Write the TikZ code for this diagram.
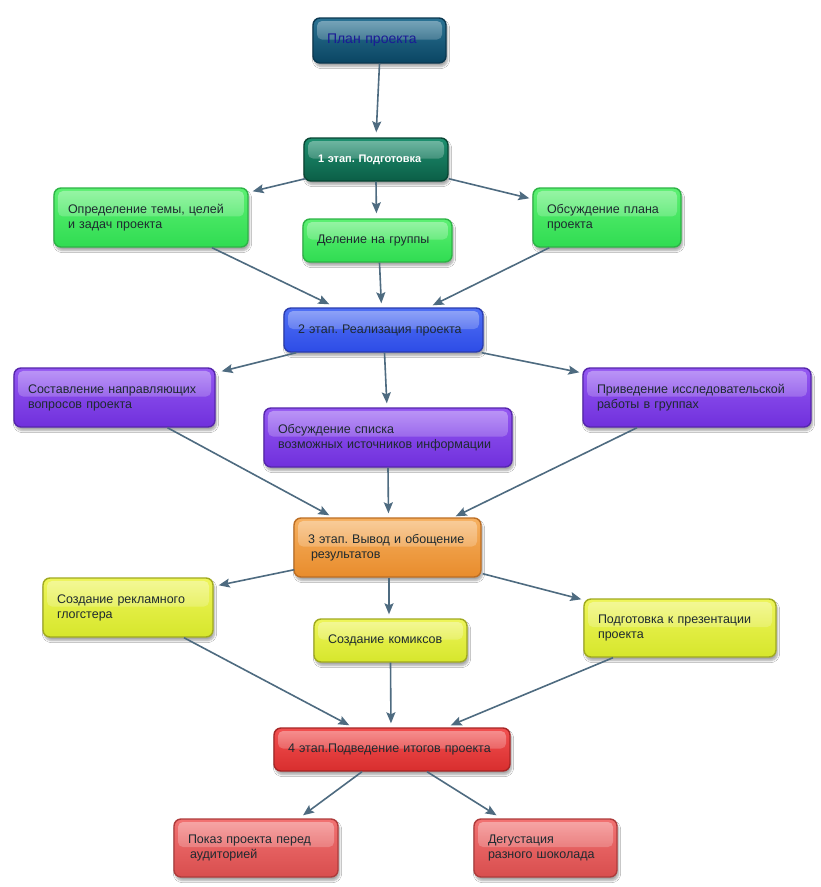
\documentclass[tikz,border=0pt]{standalone}
\usepackage{fontspec}
\setmainfont{Liberation Sans}
\frenchspacing
\usetikzlibrary{arrows.meta,shadows.blur,fadings}
\definecolor{arrowc}{HTML}{4E6B80}
\definecolor{txt}{HTML}{1E2A30}
\tikzset{
  box/.style={rounded corners=7pt, line width=1.4pt, align=left,
    minimum width=#1, text width=#1-28pt, inner xsep=14pt, inner ysep=2pt,
    font=\fontsize{12.5}{15}\selectfont\frenchspacing, text=txt,
    blur shadow={shadow xshift=1.5pt, shadow yshift=-3.5pt, shadow blur steps=6, shadow opacity=35},
    path picture={\fill[white, fill opacity=0.38, path fading=south, rounded corners=5pt]
      ([shift={(4,3)}]path picture bounding box.north west) rectangle
      ([shift={(-4,-1)}]path picture bounding box.east);}},
  plan/.style={top color=planT, bottom color=planB, draw=planD},
  stone/.style={top color=s1T, bottom color=s1B, draw=s1D},
  grn/.style={top color=grT, bottom color=grB, draw=grD},
  blu/.style={top color=blT, bottom color=blB, draw=blD},
  pur/.style={top color=puT, bottom color=puB, draw=puD},
  org/.style={top color=orT, bottom color=orB, draw=orD},
  yel/.style={top color=yeT, bottom color=yeB, draw=yeD},
  red/.style={top color=reT, bottom color=reB, draw=reD},
  lred/.style={top color=lrT, bottom color=lrB, draw=lrD},
  conn/.style={draw=arrowc, line width=1.6pt, -{Stealth[length=11pt,width=9pt,inset=2pt]}},
}
\definecolor{planT}{HTML}{2B7394}\definecolor{planB}{HTML}{0A4562}\definecolor{planD}{HTML}{0B3850}
\definecolor{s1T}{HTML}{1E9070}\definecolor{s1B}{HTML}{0B5E46}\definecolor{s1D}{HTML}{094634}
\definecolor{grT}{HTML}{5CF072}\definecolor{grB}{HTML}{30DC52}\definecolor{grD}{HTML}{2DB446}
\definecolor{blT}{HTML}{5070F5}\definecolor{blB}{HTML}{2D4CE6}\definecolor{blD}{HTML}{2A3CAE}
\definecolor{puT}{HTML}{9458F2}\definecolor{puB}{HTML}{7030DC}\definecolor{puD}{HTML}{5626AC}
\definecolor{orT}{HTML}{F6B060}\definecolor{orB}{HTML}{E88C2C}\definecolor{orD}{HTML}{BC6E24}
\definecolor{yeT}{HTML}{EEF55A}\definecolor{yeB}{HTML}{D6E62C}\definecolor{yeD}{HTML}{A0AA20}
\definecolor{reT}{HTML}{F25050}\definecolor{reB}{HTML}{D82E2E}\definecolor{reD}{HTML}{A62626}
\definecolor{lrT}{HTML}{F27272}\definecolor{lrB}{HTML}{D84E4E}\definecolor{lrD}{HTML}{AE3C3C}
\definecolor{navy}{HTML}{1A1A96}
\begin{document}
\begin{tikzpicture}[x=1pt,y=-1pt]
\useasboundingbox[fill=white] (0,0) rectangle (821,887);
% nodes
\node[box=133pt, plan, minimum height=45pt, text=navy, font=\fontsize{14}{16}\selectfont] (plan) at (379.5,40.5) {План проекта};
\node[box=144pt, stone, minimum height=43pt, text=white, font=\fontsize{11}{14}\selectfont\bfseries\frenchspacing] (s1) at (376,159.5) {1 этап. Подготовка};
\node[box=194pt, grn, minimum height=59pt] (g1) at (151,217.5) {Определение темы, целей\\и задач проекта};
\node[box=149pt, grn, minimum height=43pt] (g2) at (377.5,240.5) {Деление на группы};
\node[box=148pt, grn, minimum height=59pt] (g3) at (607,217.5) {Обсуждение плана\\проекта};
\node[box=199pt, blu, minimum height=44pt] (s2) at (383.5,330) {2 этап. Реализация проекта};
\node[box=201pt, pur, minimum height=59pt] (p1) at (114.5,397.5) {Составление направляющих\\вопросов проекта};
\node[box=248pt, pur, minimum height=59pt] (p2) at (388,437.5) {Обсуждение списка\\возможных источников информации};
\node[box=228pt, pur, minimum height=59pt] (p3) at (697,397.5) {Приведение исследовательской\\работы в группах};
\node[box=187pt, org, minimum height=59pt] (s3) at (387.5,547.5) {3 этап. Вывод и обощение\\\hspace*{3pt}результатов};
\node[box=170pt, yel, minimum height=59pt] (y1) at (128,607.5) {Создание рекламного\\глогстера};
\node[box=153pt, yel, minimum height=43pt] (y2) at (390.5,640.5) {Создание комиксов};
\node[box=192pt, yel, minimum height=58pt] (y3) at (680,628) {Подготовка к презентации\\проекта};
\node[box=236pt, red, minimum height=43pt] (s4) at (392,749.5) {4 этап.Подведение итогов проекта};
\node[box=164pt, lred, minimum height=58pt] (r1) at (256,848) {Показ проекта перед\\\hspace*{2pt}аудиторией};
\node[box=143pt, lred, minimum height=58pt] (r2) at (545.5,848) {Дегустация\\разного шоколада};
% connectors
\draw[conn, shorten >=5pt] (plan.south) -- (s1.north);
\draw[conn] ([shift={(2,-3)}]s1.south west) -- ([shift={(4,4)}]g1.north east);
\draw[conn, shorten >=5pt] (s1.south) -- ([shift={(-1,0)}]g2.north);
\draw[conn] ([shift={(0,-3)}]s1.south east) -- ([shift={(-3,11)}]g3.north west);
\draw[conn] ([shift={(61,0)}]g1.south) -- ([shift={(46,-3)}]s2.north west);
\draw[conn, shorten >=4pt] ([shift={(2,0)}]g2.south) -- ([shift={(-2,0)}]s2.north);
\draw[conn] ([shift={(17,0)}]g3.south west) -- ([shift={(-51,-2)}]s2.north east);
\draw[conn] ([shift={(13,0)}]s2.south west) -- ([shift={(6,4)}]p1.north east);
\draw[conn, shorten >=4pt] ([shift={(1,0)}]s2.south) -- ([shift={(-1,0)}]p2.north);
\draw[conn] ([shift={(-2,0)}]s2.south east) -- ([shift={(-3,5)}]p3.north west);
\draw[conn] ([shift={(53,0)}]p1.south) -- ([shift={(36,-2)}]s3.north west);
\draw[conn, shorten >=4pt] (p2.south) -- ([shift={(1,0)}]s3.north);
\draw[conn] ([shift={(-60,0)}]p3.south) -- ([shift={(-26,-1)}]s3.north east);
\draw[conn] ([shift={(1,-8)}]s3.south west) -- ([shift={(5,8)}]y1.north east);
\draw[conn, shorten >=4pt] ([shift={(1.5,0)}]s3.south) -- ([shift={(-1.5,0)}]y2.north);
\draw[conn] ([shift={(1,-4)}]s3.south east) -- ([shift={(-2,1)}]y3.north west);
\draw[conn] ([shift={(56,0)}]y1.south) -- ([shift={(76,-2)}]s4.north west);
\draw[conn, shorten >=4pt] (y2.south) -- ([shift={(-1,0)}]s4.north);
\draw[conn] ([shift={(-67,0)}]y3.south) -- ([shift={(-60,-2)}]s4.north east);
\draw[conn] ([shift={(-30,0)}]s4.south) -- ([shift={(47,-3)}]r1.north);
\draw[conn] ([shift={(35,0)}]s4.south) -- ([shift={(-49,-3)}]r2.north);
\end{tikzpicture}
\end{document}
